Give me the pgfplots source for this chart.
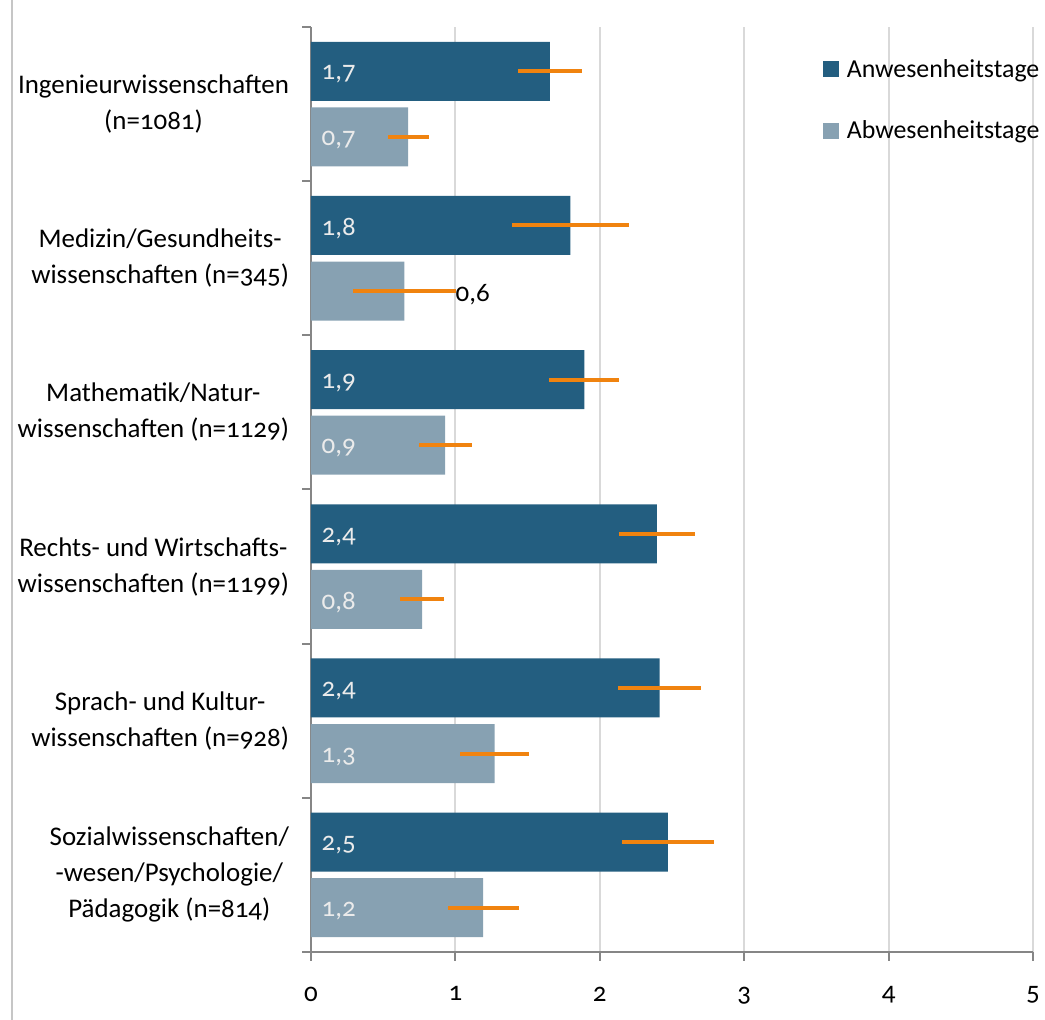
\documentclass[border=0pt]{standalone}
\usepackage{pgfplots}
\pgfplotsset{compat=1.18}
\usepackage{fontspec}
\setmainfont{Carlito}[Numbers=OldStyle]
\definecolor{dk}{HTML}{235E80}
\definecolor{lt}{HTML}{87A1B2}
\definecolor{er}{HTML}{F0830F}
\definecolor{gr}{HTML}{D9D9D9}
\definecolor{axc}{HTML}{868686}
\newcommand{\lf}{\fontsize{20.2}{27}\selectfont}
\newcommand{\lgf}{\fontsize{19.4}{24}\selectfont}
\begin{document}
\begin{tikzpicture}
\begin{axis}[name=ax, scale only axis, width=541.5pt, height=693.75pt,
  xmin=0, xmax=5, ymin=-0.5, ymax=5.5,
  axis x line*=bottom, axis y line*=left,
  axis line style={axc, line width=1.5pt},
  xtick={0,1,2,3,4,5},
  ytick={-0.5,0.5,1.5,2.5,3.5,4.5,5.5}, yticklabels={},
  tick style={axc, line width=1.5pt},
  tick align=outside, major tick length=6.5pt,
  xmajorgrids, grid style={gr, line width=1.5pt},
  /pgf/number format/assume math mode=true,
  xticklabel style={font=\lf, yshift=-16pt},
  extra y ticks={0,1,2,3,4,5},
  extra y tick labels={{Sozialwissenschaften/\\-wesen/Psychologie/\\Pädagogik (n=814)},
    {Sprach- und Kultur-\\wissenschaften (n=928)},
    {Rechts- und Wirtschafts-\\wissenschaften (n=1199)},
    {Mathematik/Natur-\\wissenschaften (n=1129)},
    {Medizin/Gesundheits-\\wissenschaften (n=345)},
    {Ingenieurwissenschaften\\(n=1081)}},
  extra y tick style={major tick length=0pt, yticklabel style={align=center, font=\lf, xshift=-13pt}},
  legend style={at={(0.7085,0.968)}, anchor=north west, draw=none, fill=none, font=\lgf, row sep=27pt, inner sep=0pt},
  legend cell align=left,
]
\addplot[xbar, bar width=0.383, bar shift=0pt, draw=none, fill=dk,
  legend image code/.code={\fill[dk] (0pt,-6pt) rectangle (12pt,6pt); \path (16pt,0pt);},
  error bars/.cd, x dir=both, x explicit, error mark=none, error bar style={er, line width=3pt}]
  coordinates {
  (1.655,5.2127) +- (0.22,0)
  (1.796,4.2127) +- (0.405,0)
  (1.893,3.2127) +- (0.243,0)
  (2.396,2.2127) +- (0.264,0)
  (2.414,1.2127) +- (0.286,0)
  (2.472,0.2127) +- (0.32,0)
  };
\addlegendentry{Anwesenheitstage}
\addplot[xbar, bar width=0.383, bar shift=0pt, draw=none, fill=lt,
  legend image code/.code={\fill[lt] (0pt,-6pt) rectangle (12pt,6pt); \path (16pt,0pt);},
  error bars/.cd, x dir=both, x explicit, error mark=none, error bar style={er, line width=3pt}]
  coordinates {
  (0.673,4.7873) +- (0.142,0)
  (0.647,3.7873) +- (0.354,0)
  (0.929,2.7873) +- (0.184,0)
  (0.770,1.7873) +- (0.153,0)
  (1.272,0.7873) +- (0.237,0)
  (1.192,-0.2127) +- (0.245,0)
  };
\addlegendentry{Abwesenheitstage}
\addplot[draw=none, mark=none, forget plot, point meta=explicit symbolic,
  nodes near coords, nodes near coords style={anchor=west, font=\lf, text=white!92!black, xshift=4.5pt, yshift=-2.5pt}]
  table[meta=l] {
  x y l
  0 5.2127 {1,7}
  0 4.7873 {0,7}
  0 4.2127 {1,8}
  0 3.2127 {1,9}
  0 2.7873 {0,9}
  0 2.2127 {2,4}
  0 1.7873 {0,8}
  0 1.2127 {2,4}
  0 0.7873 {1,3}
  0 0.2127 {2,5}
  0 -0.2127 {1,2}
  };
\addplot[draw=none, mark=none, forget plot, point meta=explicit symbolic,
  nodes near coords, nodes near coords style={anchor=west, font=\lf, text=black, xshift=-4pt, yshift=-2.5pt}]
  table[meta=l] {
  x y l
  1.006 3.7873 {0,6}
  };
\end{axis}
\draw[gray!45, line width=0.8pt] ([shift={(-224.25pt,-51pt)}]ax.south west) -- ([shift={(-224.25pt,714pt)}]ax.south west);
\pgfresetboundingbox
\path ([shift={(-233.25pt,-51pt)}]ax.south west) rectangle ([shift={(550.5pt,714pt)}]ax.south west);
\end{tikzpicture}
\end{document}
